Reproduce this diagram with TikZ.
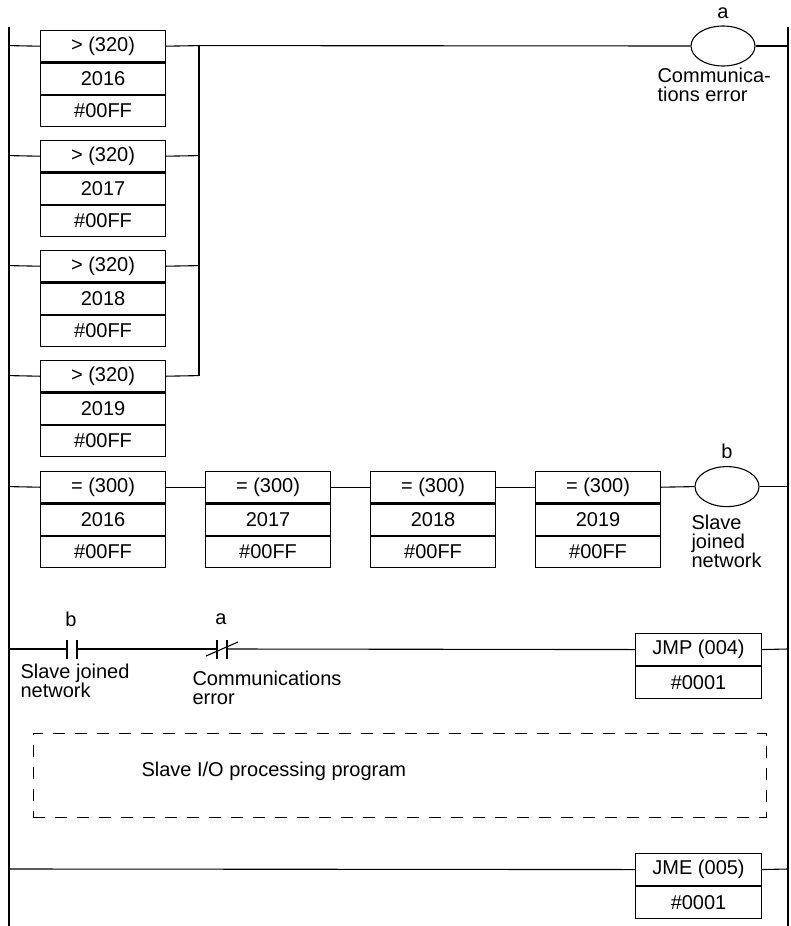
\documentclass[tikz,border=0pt]{standalone}
\usepackage{fontspec}
\setmainfont{Liberation Sans}
\usetikzlibrary{positioning,calc,shapes.geometric}
\begin{document}
\begin{tikzpicture}[x=1pt, y=-1pt, line width=1.1pt,
    every node/.style={font=\fontsize{20}{22}\selectfont},
    cell/.style={draw, minimum width=125pt, minimum height=31.3pt, inner sep=0pt, anchor=north west},
    jcell/.style={draw, minimum width=126pt, minimum height=32pt, inner sep=0pt, anchor=north west},
    coil/.style={draw, ellipse, minimum width=64pt, minimum height=40pt, inner sep=0pt},
    lbl/.style={align=left, inner sep=0pt, anchor=north west, font=\fontsize{20}{19}\selectfont}]
  \useasboundingbox (0,0) rectangle (790,926);

  % power rails
  \coordinate (lt) at (9,27);   \coordinate (lb) at (9,926);
  \coordinate (rt) at (788,27); \coordinate (rb) at (788,926);
  \draw (lt) -- (lb);
  \draw (rt) -- (rb);

  % comparison blocks (OR)
  \foreach \i/\y/\w in {1/30/2016, 2/140/2017, 3/250/2018, 4/360/2019} {
    \node[cell] (gt\i) at (40,\y) {> (320)};
    \node[cell, below=0pt of gt\i.south west, anchor=north west] (gtw\i) {\w};
    \node[cell, below=0pt of gtw\i.south west, anchor=north west] (gtm\i) {\#00FF};
    \coordinate (gl\i) at (9,{\y+15.6});
    \coordinate (gr\i) at (199,{\y+15.6});
    \draw (gl\i) -- (gt\i.west);
    \draw (gt\i.east) -- (gr\i);
  }
  \draw (gr1) -- (gr4);

  \node[coil] (coila) at (723,46) {};
  \node[above=3pt of coila] (na) {a};
  \node[lbl] (la) at (657,67) {Communica-\\tions error};
  \draw (gr1) -- (coila.west);
  \draw (coila.east) -- (788,46);

  % equality blocks (AND)
  \foreach \i/\x/\w in {1/40/2016, 2/205/2017, 3/370/2018, 4/535/2019} {
    \node[cell] (eq\i) at (\x,471) {= (300)};
    \node[cell, below=0pt of eq\i.south west, anchor=north west] (eqw\i) {\w};
    \node[cell, below=0pt of eqw\i.south west, anchor=north west] (eqm\i) {\#00FF};
  }
  \coordinate (el) at (9,486.6);
  \draw (el) -- (eq1.west);
  \draw (eq1.east) -- (eq2.west);
  \draw (eq2.east) -- (eq3.west);
  \draw (eq3.east) -- (eq4.west);
  \node[coil] (coilb) at (727,486.6) {};
  \node[above=3pt of coilb] (nb) {b};
  \node[lbl] (lb2) at (691,514) {Slave\\joined\\network};
  \draw (eq4.east) -- (coilb.west);
  \coordinate (er) at (788,486.6);
  \draw (coilb.east) -- (er);

  % contacts and jump
  \coordinate (cl) at (9,649);
  \coordinate (cb1) at (67,649); \coordinate (cb2) at (77,649);
  \coordinate (ca1) at (217,649); \coordinate (ca2) at (227,649);
  \draw (cl) -- (cb1);
  \draw ($(cb1)+(0,-9.5)$) -- ($(cb1)+(0,9.5)$);
  \draw ($(cb2)+(0,-9.5)$) -- ($(cb2)+(0,9.5)$);
  \draw (cb2) -- (ca1);
  \draw ($(ca1)+(0,-9.5)$) -- ($(ca1)+(0,9.5)$);
  \draw ($(ca2)+(0,-9.5)$) -- ($(ca2)+(0,9.5)$);
  \draw ($(ca1)+(-11,7)$) -- ($(ca2)+(11,-7)$);
  \node (cbn) at (71,619) {b};
  \node (can) at (221,619) {a};
  \node[lbl] (cbl) at (20,663) {Slave joined\\network};
  \node[lbl] (cal) at (192,670) {Communications\\error};

  \node[jcell] (jmp) at (635,633) {JMP (004)};
  \node[jcell, below=0pt of jmp.south west, anchor=north west] (jmpn) {\#0001};
  \draw (ca2) -- (jmp.west);
  \draw (jmp.east) -- (788,649);

  % program area
  \node[draw, dashed, dash pattern=on 12pt off 10pt, line width=0.9pt, minimum width=733pt,
    minimum height=84pt, anchor=north west] (prog) at (33,733) {};
  \node[anchor=west, inner sep=0pt] (progt) at (141,771) {Slave I/O processing program};

  % jump end
  \node[jcell] (jme) at (635,853) {JME (005)};
  \node[jcell, below=0pt of jme.south west, anchor=north west] (jmen) {\#0001};
  \draw (9,869) -- (jme.west);
  \draw (jme.east) -- (788,869);
\end{tikzpicture}
\end{document}
